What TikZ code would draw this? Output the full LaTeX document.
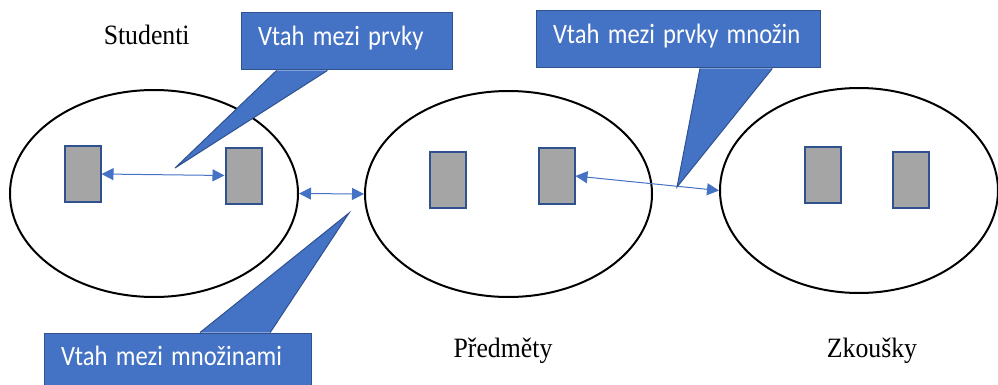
\documentclass[tikz,border=0pt]{standalone}
\usepackage{fontspec}
\setmainfont{Liberation Serif}
\newfontfamily\calloutfont{Carlito}
\usepackage{graphicx}
\usepackage{tikz}
\usetikzlibrary{arrows.meta}
\usetikzlibrary{calc}
\usetikzlibrary{shapes.geometric}

\definecolor{calloutblue}{HTML}{4472C4}
\definecolor{borderblue}{HTML}{2F528F}
\definecolor{elemgray}{HTML}{A5A5A5}

% the screenshot is a little narrower than the fonts
\newcommand{\calloutlabel}[1]{\scalebox{0.88}[1]{#1}}
\newcommand{\setlabel}[1]{\scalebox{0.92}[1]{#1}}

\begin{document}
\begin{tikzpicture}[x=1pt, y=-1pt,
    setshape/.style={shape=ellipse, draw, line width=2pt, inner sep=0pt},
    elem/.style={shape=rectangle, draw=borderblue, fill=elemgray, line width=2pt,
      minimum width=36pt, minimum height=56pt, inner sep=0pt},
    link/.style={draw=calloutblue, line width=1pt,
      {Triangle[length=12pt,width=12pt]}-{Triangle[length=12pt,width=12pt]}},
    callout/.style={shape=rectangle, fill=calloutblue, draw=borderblue, line width=1pt,
      text=white, font=\calloutfont\fontsize{28}{32}\selectfont, align=left,
      inner xsep=17pt, inner ysep=0pt, minimum height=57pt,
      text height=18pt, text depth=10pt},
    callouttail/.style={fill=calloutblue, draw=borderblue, line width=1pt},
    setname/.style={font=\fontsize{28}{32}\selectfont, anchor=base, inner sep=0pt}]

    \path [use as bounding box] (0,0) rectangle (998,385);

    % sets
    \node[name=stud, setshape,
      minimum width=288pt,
      minimum height=207pt] at (154,193.5) {};

    \node[name=pred, setshape,
      minimum width=287pt,
      minimum height=206pt] at (508.5,194) {};

    \node[name=zko, setshape,
      minimum width=278pt,
      minimum height=205pt] at (859,190.5) {};

    % elements
    \node[name=stud1, elem] at (82.5,174) {};
    \node[name=stud2, elem] at (243.5,175.5) {};
    \node[name=pred1, elem] at (447.5,180) {};
    \node[name=pred2, elem] at (556.5,176) {};
    \node[name=zko1, elem] at (823,175) {};
    \node[name=zko2, elem] at (910.5,180) {};

    \path (stud1.east) edge[link] (stud2.west);
    \path (stud.east) edge[link] (pred.west);
    \path (pred2.east) edge[link] (zko.west);

    % callouts
    \coordinate (tip1) at (175,168);
    \coordinate (tip2) at (677,187);
    \coordinate (tip3) at (349,213);

    \node[name=c1, callout, text width=177pt] at (346.5,41.5) {\calloutlabel{Vtah mezi prvky}};
    \path[callouttail] ($(c1.south west)!0.17!(c1.south east)$) -- (tip1)
      -- ($(c1.south west)!0.41!(c1.south east)$);

    \node[name=c2, callout, text width=250pt] at (678,39.5) {\calloutlabel{Vtah mezi prvky množin}};
    \path[callouttail] ($(c2.south west)!0.577!(c2.south east)$) -- (tip2)
      -- ($(c2.south west)!0.831!(c2.south east)$);

    \node[name=c3, callout, text width=233pt] at (177.5,361.5) {\calloutlabel{Vtah mezi množinami}};
    \path[callouttail] ($(c3.north west)!0.584!(c3.north east)$) -- (tip3)
      -- ($(c3.north west)!0.846!(c3.north east)$);

    % set names
    \node[name=studname, setname] at (146.7,45) {\setlabel{Studenti}};
    \node[name=predname, setname] at (503,357) {\setlabel{Předměty}};
    \node[name=zkoname, setname] at (872,357) {\setlabel{Zkoušky}};

  \end{tikzpicture}
\end{document}
